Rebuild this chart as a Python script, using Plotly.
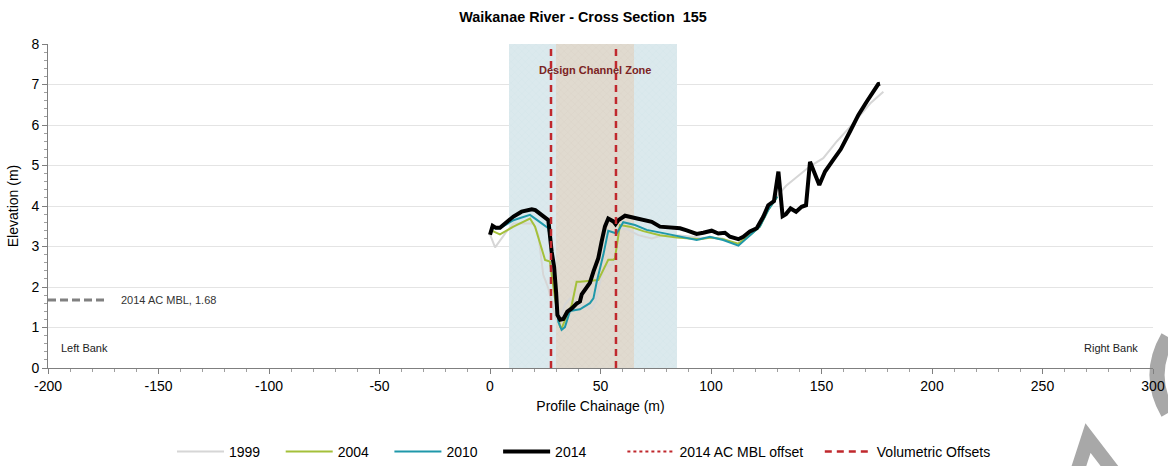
import plotly.graph_objects as go

# ---------------- data ----------------
x1999 = [0, 2.3, 6.8, 10.6, 19.6, 21.9, 24.1, 26.4, 28.6, 29.9, 31.5, 33.9, 36.2, 38.5, 41.0, 43.7, 46.0, 47.5,
         49.8, 52.0, 55.0, 56.5, 58.1, 59.6, 62.6, 67.1, 70.9, 73.2, 76.9, 86.0, 95.0, 105.0, 112.0, 118.0,
         122.0, 126.0, 129.7, 134.0, 138.0, 144.8, 150.8, 157.0, 164.4, 172.0, 178.0]
y1999 = [3.30, 2.98, 3.32, 3.57, 3.57, 3.28, 2.30, 1.97, 1.47, 1.22, 1.15, 1.56, 1.72, 1.62, 1.55, 1.51, 1.47, 1.60,
         2.13, 2.50, 2.55, 2.67, 3.41, 3.45, 3.41, 3.28, 3.22, 3.20, 3.26, 3.27, 3.22, 3.20, 3.05, 3.30,
         3.50, 3.95, 4.23, 4.50, 4.68, 4.98, 5.18, 5.60, 6.04, 6.53, 6.82]

x2004 = [0, 4.5, 10.6, 18.1, 20.4, 24.9, 27.1, 29.4, 31.7, 32.4, 34.0, 36.2, 37.0, 39.2, 40.7, 49.0, 51.3, 53.5,
         55.8, 56.5, 58.8, 63.3, 69.4, 76.9, 84.5, 95.0, 100.0, 105.5, 112.4, 117.6, 122.1, 125.9, 130.0]
y2004 = [3.41, 3.30, 3.49, 3.69, 3.49, 2.67, 2.63, 1.72, 1.02, 0.98, 1.19, 1.47, 1.56, 2.13, 2.13, 2.17, 2.42, 2.67,
         2.67, 2.70, 3.53, 3.49, 3.38, 3.28, 3.22, 3.18, 3.22, 3.18, 3.07, 3.28, 3.49, 3.90, 4.23]

x2010 = [0, 4.5, 10.6, 18.1, 23.4, 26.4, 27.9, 29.4, 30.9, 32.4, 33.9, 36.2, 40.7, 45.2, 46.8, 48.3, 51.3, 53.5,
         57.3, 60.3, 65.6, 70.9, 78.4, 86.0, 93.5, 99.5, 105.5, 112.4, 117.6, 122.1, 125.9, 130.0]
y2010 = [3.45, 3.45, 3.65, 3.78, 3.57, 3.45, 2.95, 2.21, 1.14, 0.94, 1.01, 1.41, 1.45, 1.60, 1.72, 2.13, 2.80, 3.39,
         3.32, 3.60, 3.53, 3.41, 3.33, 3.25, 3.16, 3.24, 3.16, 3.02, 3.28, 3.49, 3.90, 4.23]

x2014 = [0, 1.2, 2.7, 4.5, 6.8, 10.6, 14.3, 18.9, 20.5, 22.6, 26.4, 27.9, 29.0, 29.9, 30.5, 31.7, 33.2, 35.0,
         37.0, 39.2, 40.7, 41.5, 43.0, 45.2, 46.8, 49.0, 50.5, 52.0, 53.5, 55.8, 56.8, 58.1, 61.1, 64.9, 68.6,
         73.2, 76.9, 81.4, 86.0, 89.0, 93.5, 96.5, 100.3, 103.3, 106.3, 108.6, 112.4, 114.6, 117.6, 120.7,
         123.7, 125.9, 128.5, 130.5, 132.4, 133.9, 136.0, 138.5, 141.0, 143.0, 144.8, 149.0, 151.6, 155.3,
         158.7, 162.9, 166.7, 170.5, 172.7, 175.7, 176.5]
y2014 = [3.29, 3.51, 3.46, 3.46, 3.57, 3.74, 3.86, 3.92, 3.90, 3.82, 3.65, 2.87, 2.50, 1.88, 1.31, 1.19, 1.21, 1.39,
         1.47, 1.59, 1.64, 1.82, 1.93, 2.10, 2.38, 2.71, 3.12, 3.49, 3.69, 3.62, 3.55, 3.65, 3.76, 3.71, 3.65,
         3.61, 3.49, 3.47, 3.45, 3.40, 3.31, 3.34, 3.39, 3.32, 3.34, 3.24, 3.18, 3.24, 3.37, 3.45,
         3.74, 4.02, 4.12, 4.85, 3.75, 3.80, 3.94, 3.86, 3.98, 4.02, 5.09, 4.52, 4.85, 5.14,
         5.40, 5.84, 6.25, 6.58, 6.78, 7.01, 7.02]

volumetric_offsets = [27.6, 57.0]
design_zone_outer = [8.6, 84.6]
design_zone_inner = [29.9, 65.2]
mbl_level = 1.68
mbl_extent = [-200, -174]
y_top = 8

x_tick_vals = [-200, -150, -100, -50, 0, 50, 100, 150, 200, 250, 300]
x_tick_text = ["-200", "-150", "-100", "-50", "0", "50", "100", "150", "200", "250", "300"]

# ---------------- figure ----------------
FONT = "Liberation Sans, Arial, sans-serif"
W, H = 1168, 466
L, R, T, B = 48, 15, 44, 98
fig = go.Figure()

# design channel zone (textured bands)
for (z0, z1), col, fg in [(design_zone_outer, "#dbe9ed", "#c8dde3"),
                          (design_zone_inner, "#e0dacf", "#cfc7b9")]:
    fig.add_trace(go.Bar(x=[(z0 + z1) / 2], y=[y_top], base=0, width=[z1 - z0],
                         marker=dict(color=col, line=dict(width=0),
                                     pattern=dict(shape="x", fgcolor=fg, bgcolor=col, size=5, solidity=0.15)),
                         showlegend=False, hoverinfo="skip"))

# MBL annotation line
fig.add_trace(go.Scatter(x=mbl_extent, y=[mbl_level, mbl_level], mode="lines",
                         line=dict(color="#808080", width=3, dash="8px,4px"),
                         showlegend=False, hoverinfo="skip"))

NB = "\u00a0"
series = [("1999", x1999, y1999, "#d6d6d6", 2, 4),
          ("2004", x2004, y2004, "#a4c03a", 2, 4),
          ("2010", x2010, y2010, "#1f98aa", 2, 4),
          ("2014", x2014, y2014, "#000000", 4, 8)]
for name, xs, ys, col, w, pad in series:
    fig.add_trace(go.Scatter(x=xs, y=ys, mode="lines", name=name + NB * pad,
                             line=dict(color=col, width=w)))

# legend only (2014 AC MBL offset)
fig.add_trace(go.Scatter(x=[None], y=[None], mode="lines", name="2014 AC MBL offset" + NB * 3,
                         line=dict(color="#c0282d", width=2, dash="dot")))

# Volumetric offsets vertical lines
for i, v in enumerate(volumetric_offsets):
    fig.add_trace(go.Scatter(x=[v, v], y=[0, y_top], mode="lines", name="Volumetric Offsets",
                             line=dict(color="#c0282d", width=2.5, dash="7px,5px"),
                             showlegend=(i == 0), hoverinfo="skip"))

PW, PH = W - L - R, H - T - B

def px2paper(px, py):
    return (px - L) / PW, (H - B - py) / PH

# watermark fragments (drawn beneath the axis labels)
ax, ay = px2paper(1168, 337)
bx, by = px2paper(1146, 375)
cx, cy = px2paper(1168, 413)
vx0, vy0 = px2paper(1077, 472)
vx1, vy1 = px2paper(1088, 438)
vx2, vy2 = px2paper(1114, 472)
shapes = [
    dict(type="path", xref="paper", yref="paper", layer="below",
         path=f"M {ax},{ay} Q {bx},{by} {cx},{cy}", line=dict(color="#a8a8a8", width=15)),
    dict(type="path", xref="paper", yref="paper", layer="below",
         path=f"M {vx0},{vy0} L {vx1},{vy1} L {vx2},{vy2}", line=dict(color="#a8a8a8", width=14)),
]

annotations = [
    dict(x=47.5, y=7.36, text="<b>Design Channel Zone</b>", showarrow=False,
         font=dict(family=FONT, size=11, color="#7b2424")),
    dict(x=-168, y=mbl_level, text="2014 AC MBL, 1.68", showarrow=False, xanchor="left",
         font=dict(family=FONT, size=11, color="#333333")),
    dict(x=-183.5, y=0.49, text="Left Bank", showarrow=False,
         font=dict(family=FONT, size=11, color="#222222")),
    dict(x=281, y=0.49, text="Right Bank", showarrow=False,
         font=dict(family=FONT, size=11, color="#222222")),
]

fig.update_layout(
    width=W, height=H,
    margin=dict(l=L, r=R, t=T, b=B, autoexpand=False),
    paper_bgcolor="white", plot_bgcolor="white",
    barmode="overlay", bargap=0,
    font=dict(family=FONT, size=14, color="#000000"),
    title=dict(text="<b>Waikanae River - Cross Section  155</b>", x=(583 - L) / PW, xref="paper",
               xanchor="center", y=1 - 17 / H, yanchor="middle",
               font=dict(family=FONT, size=14.4, color="#000000")),
    xaxis=dict(range=[-200, 300], tickmode="array", tickvals=x_tick_vals, ticktext=x_tick_text,
               automargin=False,
               showgrid=False, zeroline=False, showline=True, linecolor="#7f7f7f", linewidth=1,
               ticks="outside", ticklen=5, tickcolor="#7f7f7f",
               minor=dict(dtick=10, tick0=-200, ticks="outside", ticklen=3, tickcolor="#9f9f9f", showgrid=False),
               title=dict(text="Profile Chainage (m)", standoff=8, font=dict(size=14)),
               tickfont=dict(size=14)),
    yaxis=dict(range=[0, 8], tickmode="linear", tick0=0, dtick=1, automargin=False,
               showgrid=True, gridcolor="#e4e4e4", gridwidth=1, zeroline=False,
               showline=True, linecolor="#7f7f7f", linewidth=1,
               ticks="outside", ticklen=5, tickcolor="#7f7f7f",
               minor=dict(dtick=0.2, ticks="outside", ticklen=3, tickcolor="#9f9f9f", showgrid=False),
               title=dict(text="Elevation (m)", standoff=9, font=dict(size=14)),
               tickfont=dict(size=14)),
    legend=dict(orientation="h", x=(584 - L) / PW, xanchor="center", y=(H - B - 452) / PH, yanchor="middle",
                font=dict(family=FONT, size=14), itemwidth=47, bgcolor="rgba(0,0,0,0)"),
    shapes=shapes,
    annotations=annotations,
    showlegend=True,
)

# remove the default 8px page margin so the figure fills the window exactly
fig.write_html("out.html", config={"displayModeBar": False},
               post_script="document.body.style.margin='0';document.body.style.overflow='hidden';")
